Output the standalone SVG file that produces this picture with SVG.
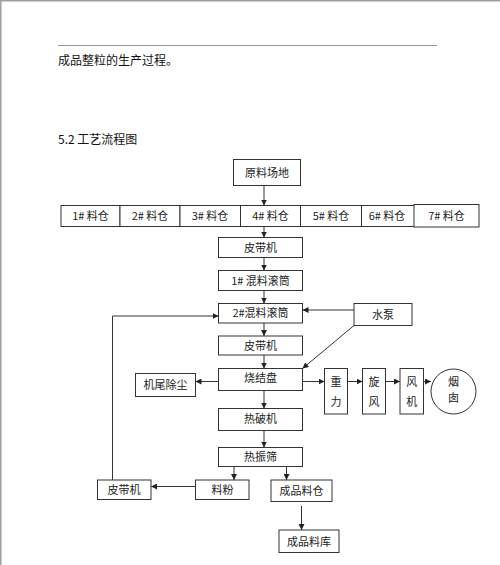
<svg xmlns="http://www.w3.org/2000/svg" width="500" height="565" viewBox="0 0 500 565">
<defs>
<style>
.b{fill:#fff;stroke:#333;stroke-width:1}
.t{font-family:"Noto Sans CJK SC","Liberation Sans",sans-serif;font-size:11px;fill:#222;text-anchor:middle}
.h{font-family:"Noto Sans CJK SC","Liberation Sans",sans-serif;font-size:12px;fill:#111}
.c line,.c polyline{stroke:#333;stroke-width:1;fill:none;marker-end:url(#a)}
</style>
<marker id="a" markerWidth="6" markerHeight="6" refX="6" refY="3" orient="auto" markerUnits="userSpaceOnUse">
<path d="M0,0 L6,3 L0,6 Z" fill="#222"/>
</marker>
</defs>
<rect width="500" height="565" fill="#fff"/>
<line x1="0.75" y1="0" x2="0.75" y2="565" stroke="#a0a0a0" stroke-width="1.5"/>
<line x1="0" y1="0.75" x2="500" y2="0.75" stroke="#a0a0a0" stroke-width="1.5"/>
<line x1="58" y1="45.5" x2="437" y2="45.5" stroke="#999" stroke-width="1"/>
<text class="h" x="58" y="65">成品整粒的生产过程。</text>
<text class="h" x="58" y="143.5">5.2 工艺流程图</text>

<g class="c" id="connectors">
<line x1="264" y1="185.5" x2="264" y2="205.5"/>
<line x1="264" y1="226.5" x2="264" y2="237.5"/>
<line x1="264" y1="257.5" x2="264" y2="270.5"/>
<line x1="264" y1="290.5" x2="264" y2="303.5"/>
<line x1="264" y1="323" x2="264" y2="336"/>
<line x1="264" y1="355" x2="264" y2="368.5"/>
<line x1="264" y1="390.5" x2="264" y2="408.5"/>
<line x1="264" y1="430.5" x2="264" y2="447.5"/>
<line x1="234" y1="466.5" x2="234" y2="480"/>
<line x1="286.5" y1="466.5" x2="286.5" y2="480"/>
<line x1="301.5" y1="506" x2="301.5" y2="530"/>
<line x1="195.5" y1="486.5" x2="151" y2="486.5"/>
<polyline points="112.5,480 112.5,316 218.5,316"/>
<line x1="354" y1="310" x2="302.5" y2="310"/>
<line x1="354" y1="325.5" x2="302.5" y2="368.5"/>
<line x1="218.5" y1="381.5" x2="195.5" y2="381.5"/>
<line x1="302.5" y1="381.5" x2="324.5" y2="381.5"/>
<line x1="347.5" y1="381.5" x2="362.5" y2="381.5"/>
<line x1="385.5" y1="381.5" x2="400" y2="381.5"/>
<line x1="423.5" y1="381.5" x2="431" y2="381.5"/>
</g>

<g id="yuanliao"><rect class="b" x="233.5" y="159.5" width="67" height="26"/><text class="t" x="267" y="176.5">原料场地</text></g>
<g id="bin1"><rect class="b" x="61" y="205.5" width="59" height="21"/><text class="t" x="90.5" y="220">1# 料仓</text></g>
<g id="bin2"><rect class="b" x="120" y="205.5" width="60" height="21"/><text class="t" x="150" y="220">2# 料仓</text></g>
<g id="bin3"><rect class="b" x="180" y="205.5" width="60.5" height="21"/><text class="t" x="210" y="220">3# 料仓</text></g>
<g id="bin4"><rect class="b" x="240.5" y="205.5" width="60" height="21"/><text class="t" x="270.5" y="220">4# 料仓</text></g>
<g id="bin5"><rect class="b" x="300.5" y="205.5" width="61" height="21"/><text class="t" x="331" y="220">5# 料仓</text></g>
<g id="bin6"><rect class="b" x="361.5" y="205.5" width="60.5" height="21"/><text class="t" x="387" y="220">6# 料仓</text></g>
<g id="bin7"><rect class="b" x="414" y="204.5" width="65" height="22.5"/><text class="t" x="446.5" y="220">7# 料仓</text></g>
<g id="pidai1"><rect class="b" x="218.5" y="237.5" width="84" height="20"/><text class="t" x="260.5" y="251.5">皮带机</text></g>
<g id="hunliao1"><rect class="b" x="218.5" y="270.5" width="84" height="20"/><text class="t" x="260.5" y="284.5">1# 混料滚筒</text></g>
<g id="hunliao2"><rect class="b" x="218.5" y="303.5" width="84" height="19.5"/><text class="t" x="260.5" y="317">2#混料滚筒</text></g>
<g id="shuibeng"><rect class="b" x="354" y="303.5" width="58" height="22"/><text class="t" x="383" y="318.5">水泵</text></g>
<g id="pidai2"><rect class="b" x="218.5" y="336" width="84" height="19"/><text class="t" x="260.5" y="349.5">皮带机</text></g>
<g id="shaojie"><rect class="b" x="218.5" y="368.5" width="84" height="22"/><text class="t" x="260.5" y="382">烧结盘</text></g>
<g id="jiwei"><rect class="b" x="135.5" y="373.5" width="60" height="23"/><text class="t" x="165.5" y="389">机尾除尘</text></g>
<g id="zhongli"><rect class="b" x="324.5" y="368.5" width="23" height="45.5"/><text class="t" x="336" y="386">重</text><text class="t" x="336" y="406">力</text></g>
<g id="xuanfeng"><rect class="b" x="362.5" y="368.5" width="23" height="45.5"/><text class="t" x="374" y="386">旋</text><text class="t" x="374" y="406">风</text></g>
<g id="fengji"><rect class="b" x="400" y="368.5" width="23.5" height="45.5"/><text class="t" x="411.7" y="386">风</text><text class="t" x="411.7" y="406">机</text></g>
<g id="yancong"><circle class="b" cx="453.5" cy="391.5" r="22.5"/><text class="t" x="453.5" y="386" font-size="10.5">烟</text><text class="t" x="453.5" y="401.5" font-size="10.5">囱</text></g>
<g id="repo"><rect class="b" x="218.5" y="408.5" width="84" height="22"/><text class="t" x="260.5" y="423">热破机</text></g>
<g id="rezhen"><rect class="b" x="218.5" y="447.5" width="84" height="19"/><text class="t" x="260.5" y="461">热振筛</text></g>
<g id="liaofen"><rect class="b" x="195.5" y="480" width="53.5" height="19.5"/><text class="t" x="222.5" y="494">料粉</text></g>
<g id="chengpincang"><rect class="b" x="271" y="480" width="61" height="21.5"/><text class="t" x="301.5" y="495">成品料仓</text></g>
<g id="pidai3"><rect class="b" x="97.5" y="480" width="53.5" height="19.5"/><text class="t" x="124" y="494">皮带机</text></g>
<g id="chengpinku"><rect class="b" x="279" y="530" width="60" height="22.5"/><text class="t" x="309" y="545.5">成品料库</text></g>
</svg>
